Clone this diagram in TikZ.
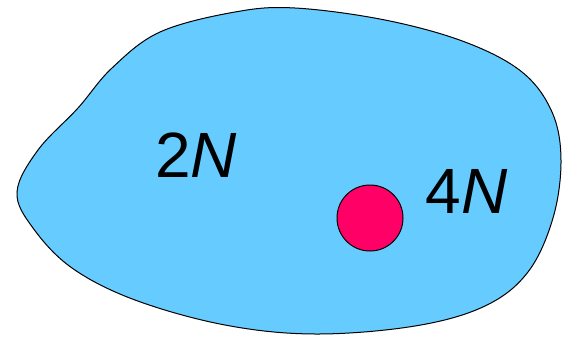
\documentclass[tikz,border=0pt]{standalone}
\usepackage{fontspec}
\setmainfont{Liberation Sans}
\usetikzlibrary{positioning}
\definecolor{blobBlue}{HTML}{66CCFF}
\definecolor{spotRed}{HTML}{FF0066}

\begin{document}
\begin{tikzpicture}[
    x=1pt, y=-1pt,
    every node/.style={font=\fontsize{64}{72}\selectfont},
    region/.style={draw=black, line width=1pt, fill=blobBlue},
    spot/.style={circle, draw=black, line width=1pt, fill=spotRed, minimum size=66pt, inner sep=0pt},
    tag/.style={inner sep=0pt, text=black},
]
\useasboundingbox (0,0) rectangle (563,338);
% Gebiet
\draw[region] plot[smooth cycle, tension=0.6] coordinates {
    (17,192) (38,150) (78,108) (112,68) (160,32) (235,12) (295,8)
    (385,20) (465,42) (522,72) (552,112) (561,160) (553,218)
    (528,272) (485,306) (415,326) (315,334) (225,325) (135,300)
    (72,268) (33,228)};
% Punkt und Beschriftungen
\node[spot] (pt) at (370,218) {};
\node[tag] (inner) at (196,155) {2\textit{N}};
\node[tag, right=22pt of pt.east, yshift=27pt] (outer) {4\textit{N}};
\end{tikzpicture}
\end{document}
